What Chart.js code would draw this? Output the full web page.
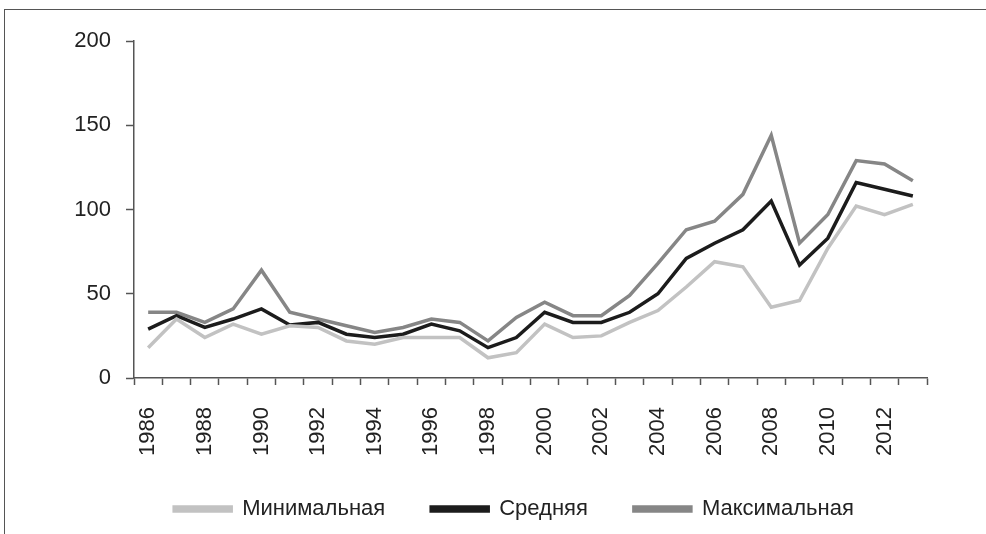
<!DOCTYPE html>
<html>
<head>
<meta charset="utf-8">
<script src="https://cdn.jsdelivr.net/npm/chart.js@4.4.0/dist/chart.umd.min.js"></script>
<style>
  html, body { margin: 0; padding: 0; background: #fff; }
  .wrap { position: relative; width: 986px; height: 534px; }
  .frame { position: absolute; left: 4px; top: 9px; right: -5px; bottom: -5px;
           border-left: 1.5px solid #555; border-top: 1.5px solid #555; }
  canvas { position: absolute; left: 0; top: 0; }
</style>
</head>
<body>
<div class="wrap">
  <div class="frame"></div>
  <canvas id="myChart" width="986" height="534"></canvas>
</div>
<script>
// годы
const years = [1986, 1987, 1988, 1989, 1990, 1991, 1992, 1993, 1994, 1995,
               1996, 1997, 1998, 1999, 2000, 2001, 2002, 2003, 2004, 2005,
               2006, 2007, 2008, 2009, 2010, 2011, 2012, 2013];

const minValues  = [18, 35, 24, 32, 26, 31, 30, 22, 20, 24,
                    24, 24, 12, 15, 32, 24, 25, 33, 40, 54,
                    69, 66, 42, 46, 77, 102, 97, 103];
const meanValues = [29, 37, 30, 35, 41, 31.5, 33, 26, 24, 26,
                    32, 28, 18, 24, 39, 33, 33, 39, 50, 71,
                    80, 88, 105, 67, 83, 116, 112, 108];
const maxValues  = [39, 39, 33, 41, 64, 39, 35, 31, 27, 30,
                    35, 33, 22, 36, 45, 37, 37, 49, 68, 88,
                    93, 109, 144, 80, 97, 129, 127, 117];

const yTicks = [0, 50, 100, 150, 200];
const seriesNames = ['Минимальная', 'Средняя', 'Максимальная'];

const FONT = 'Liberation Sans, Arial, sans-serif';

function makeDataset(name, values, color) {
    return {
        label: name,
        data: values,
        borderColor: color,
        backgroundColor: color,
        borderWidth: 3.5,
        pointRadius: 0,
        tension: 0
    };
}

// двигаем легенду: вправо и чуть вверх, как на оригинале
const legendShift = {
    id: 'legendShift',
    afterLayout(chart) {
        const lg = chart.legend;
        lg.left += 48;
        lg.right += 48;
        lg.top -= 33;
        lg.bottom -= 33;
    }
};

let ctx = document.getElementById('myChart').getContext('2d');
new Chart(ctx, {
    type: 'line',
    data: {
        labels: years.map(String),
        datasets: [
            makeDataset(seriesNames[0], minValues, '#c2c2c2'),
            makeDataset(seriesNames[1], meanValues, '#1c1c1c'),
            makeDataset(seriesNames[2], maxValues, '#868686')
        ]
    },
    plugins: [legendShift],
    options: {
        responsive: false,
        animation: false,
        layout: { padding: { left: 5, right: 59, top: 41, bottom: -29 } },
        plugins: {
            tooltip: { enabled: false },
            legend: {
                position: 'bottom',
                labels: {
                    boxWidth: 57,
                    boxHeight: 4,
                    padding: 46,
                    color: '#222',
                    font: { family: FONT, size: 22 }
                }
            }
        },
        scales: {
            x: {
                offset: true,
                grid: { offset: true, drawOnChartArea: false, drawTicks: true,
                        tickLength: 7, tickColor: '#555', tickWidth: 1.5 },
                border: { color: '#555', width: 1.5 },
                ticks: {
                    autoSkip: false,
                    minRotation: 90,
                    maxRotation: 90,
                    padding: 22,
                    color: '#222',
                    font: { family: FONT, size: 22 },
                    callback: function(v, i) { return i % 2 === 0 ? years[i] : ''; }
                },
                afterFit: function(scale) { scale.height = 107; }
            },
            y: {
                min: 0,
                max: 200,
                afterBuildTicks: function(scale) {
                    scale.ticks = yTicks.map(v => ({ value: v }));
                },
                grid: { drawOnChartArea: false, drawTicks: true,
                        tickLength: 8, tickColor: '#555', tickWidth: 1.5 },
                border: { color: '#555', width: 1.5 },
                ticks: {
                    padding: 15,
                    color: '#222',
                    font: { family: FONT, size: 22 }
                },
                afterFit: function(scale) { scale.width = 129; }
            }
        }
    }
});
</script>
</body>
</html>
